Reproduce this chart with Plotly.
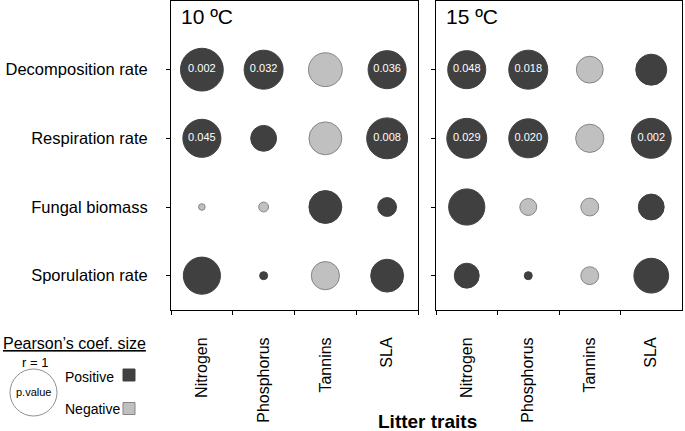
import plotly.graph_objects as go

# ---------------- data ----------------
traits = ["Nitrogen", "Phosphorus", "Tannins", "SLA"]
responses = ["Decomposition rate", "Respiration rate", "Fungal biomass", "Sporulation rate"]

# Pearson r (rows follow `responses`, columns follow `traits`)
r_10C = [
    [0.91, 0.83, -0.72, 0.81],
    [0.81, 0.55, -0.70, 0.87],
    [-0.14, -0.21, 0.70, 0.40],
    [0.79, 0.17, -0.60, 0.70],
]
p_10C = [
    ["0.002", "0.032", "", "0.036"],
    ["0.045", "", "", "0.008"],
    ["", "", "", ""],
    ["", "", "", ""],
]
r_15C = [
    [0.81, 0.83, -0.57, 0.66],
    [0.85, 0.83, -0.60, 0.85],
    [0.77, -0.36, -0.38, 0.55],
    [0.53, 0.17, -0.38, 0.74],
]
p_15C = [
    ["0.048", "0.018", "", ""],
    ["0.029", "0.020", "", "0.002"],
    ["", "", "", ""],
    ["", "", "", ""],
]
panel_titles = ["10 ºC", "15 ºC"]

# ---------------- style ----------------
W, H = 685, 431
FONT = "Liberation Sans, Arial, sans-serif"
POS = "#404040"
NEG = "#c0c0c0"
NEG_LINE = "#858585"
D1 = 47  # pixel diameter for |r| = 1


def X(px):
    return px / W


def Y(py):
    return 1 - py / H


fig = go.Figure()


def add_panel(r, p, xa, ya):
    xs, ys, sz, col, lc, txt = [], [], [], [], [], []
    for i, resp in enumerate(responses):
        for j, tr in enumerate(traits):
            v = r[i][j]
            xs.append(tr)
            ys.append(resp)
            sz.append(abs(v) * D1)
            col.append(POS if v > 0 else NEG)
            lc.append(POS if v > 0 else NEG_LINE)
            txt.append(p[i][j])
    fig.add_trace(go.Scatter(
        x=xs, y=ys, xaxis=xa, yaxis=ya, mode="markers+text",
        text=txt, textposition="middle center",
        textfont=dict(family=FONT, size=11, color="white"),
        marker=dict(size=sz, sizemode="diameter", color=col,
                    line=dict(color=lc, width=1), opacity=1),
        showlegend=False, hoverinfo="skip", cliponaxis=False,
    ))


add_panel(r_10C, p_10C, "x", "y")
add_panel(r_15C, p_15C, "x2", "y2")

ycats = list(reversed(responses))
common_x = dict(type="category", categoryorder="array", categoryarray=traits,
                range=[-0.5, 3.5], tickson="boundaries", ticks="outside",
                ticklen=4, tickcolor="black", tickangle=-90, showline=True,
                linecolor="black", linewidth=1, mirror=True, showgrid=False,
                zeroline=False, automargin=False, ticklabelstandoff=20,
                tickfont=dict(family=FONT, size=16, color="black"))
common_y = dict(type="category", categoryorder="array", categoryarray=ycats,
                range=[-0.5, 4.0], ticks="outside", ticklen=4,
                tickcolor="black", showline=True, linecolor="black",
                linewidth=1, mirror=True, showgrid=False, zeroline=False,
                automargin=False, ticklabelstandoff=15,
                tickfont=dict(family=FONT, size=16.5, color="black"))

ydom = [Y(310), Y(1)]
fig.update_layout(
    width=W, height=H, margin=dict(l=0, r=0, t=0, b=0),
    paper_bgcolor="white", plot_bgcolor="white",
    font=dict(family=FONT, color="black"),
    xaxis=dict(domain=[X(171), X(418)], anchor="y", **common_x),
    yaxis=dict(domain=ydom, anchor="x", **common_y),
    xaxis2=dict(domain=[X(436), X(682)], anchor="y2", **common_x),
    yaxis2=dict(domain=ydom, anchor="x2", showticklabels=False, **common_y),
)

ann = []
ann.append(dict(text=panel_titles[0], x=X(179), y=Y(16), xref="paper", yref="paper",
                xanchor="left", yanchor="middle", showarrow=False,
                font=dict(family=FONT, size=21, color="black")))
ann.append(dict(text=panel_titles[1], x=X(444), y=Y(16), xref="paper", yref="paper",
                xanchor="left", yanchor="middle", showarrow=False,
                font=dict(family=FONT, size=21, color="black")))
ann.append(dict(text="<b>Litter traits</b>", x=X(427), y=Y(421.5), xref="paper", yref="paper",
                xanchor="center", yanchor="middle", showarrow=False,
                font=dict(family=FONT, size=19, color="black")))
# legend block
ann.append(dict(text="<u>Pearson’s coef. size</u>", x=X(1), y=Y(343), xref="paper", yref="paper",
                xanchor="left", yanchor="middle", showarrow=False,
                font=dict(family=FONT, size=16, color="black")))
ann.append(dict(text="r = 1", x=X(35), y=Y(362), xref="paper", yref="paper",
                xanchor="center", yanchor="middle", showarrow=False,
                font=dict(family=FONT, size=13, color="black")))
ann.append(dict(text="p.value", x=X(33), y=Y(392), xref="paper", yref="paper",
                xanchor="center", yanchor="middle", showarrow=False,
                font=dict(family=FONT, size=11, color="black")))
ann.append(dict(text="Positive", x=X(63), y=Y(377), xref="paper", yref="paper",
                xanchor="left", yanchor="middle", showarrow=False,
                font=dict(family=FONT, size=14, color="black")))
ann.append(dict(text="Negative", x=X(63), y=Y(409), xref="paper", yref="paper",
                xanchor="left", yanchor="middle", showarrow=False,
                font=dict(family=FONT, size=14, color="black")))

shapes = []
cx, cy = 33.5, 392.5
shapes.append(dict(type="circle", xref="paper", yref="paper",
                   x0=X(cx - D1 / 2), x1=X(cx + D1 / 2), y0=Y(cy + D1 / 2), y1=Y(cy - D1 / 2),
                   line=dict(color="#909090", width=1), fillcolor="white"))
for (sx, sy, fc, lcol) in [(129, 375, POS, POS), (129, 408.5, NEG, NEG_LINE)]:
    shapes.append(dict(type="rect", xref="paper", yref="paper",
                       x0=X(sx - 6), x1=X(sx + 6), y0=Y(sy + 6), y1=Y(sy - 6),
                       line=dict(color=lcol, width=1), fillcolor=fc))

fig.update_layout(annotations=ann, shapes=shapes)
fig.write_html("out.html", config={"displayModeBar": False},
               post_script="document.body.style.margin='0px';document.body.style.overflow='hidden';")
